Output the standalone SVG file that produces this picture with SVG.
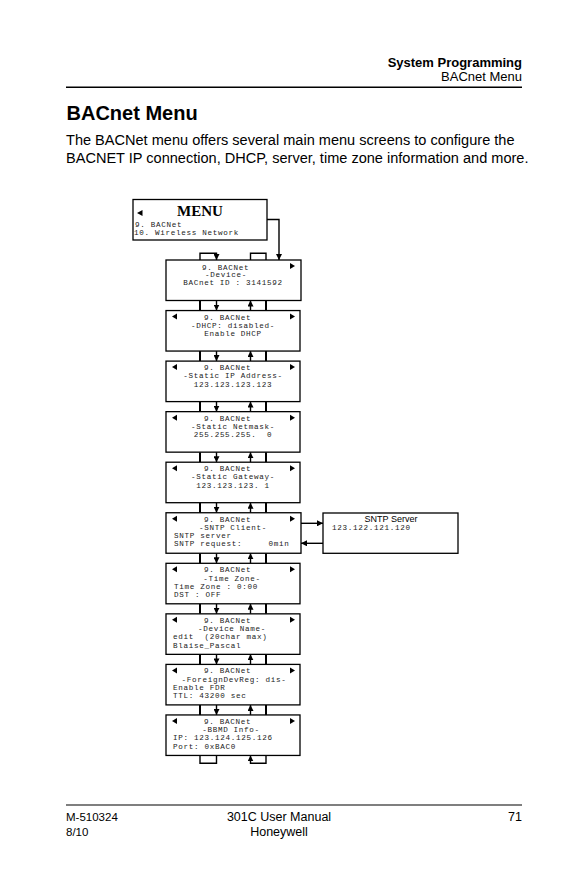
<svg xmlns="http://www.w3.org/2000/svg" width="577" height="892" viewBox="0 0 577 892">
<style>
.sans{font-family:"Liberation Sans",Arial,sans-serif;fill:#000}
.lcd{font-family:"Liberation Mono","Courier New",monospace;font-size:7.6px;letter-spacing:0.69px;fill:#222;white-space:pre}
.mid{text-anchor:middle}
.box{fill:#fff;stroke:#000;stroke-width:1.3}
.tri{fill:#000}
.ln{fill:none;stroke:#000;stroke-width:1.4}
.thick{fill:none;stroke:#000;stroke-width:2}
</style>
<defs>
<marker id="ah" markerUnits="userSpaceOnUse" viewBox="0 0 6 6" markerWidth="6" markerHeight="6" refX="6" refY="3" orient="auto">
<path d="M0,0 L6,3 L0,6 z" fill="#000"/>
</marker>
</defs>
<rect width="577" height="892" fill="#fff"/>

<g id="header">
<text class="sans" x="522" y="66.5" font-size="13" font-weight="bold" text-anchor="end">System Programming</text>
<text class="sans" x="522" y="81" font-size="13" text-anchor="end">BACnet Menu</text>
<line x1="66" y1="87.3" x2="522" y2="87.3" stroke="#000" stroke-width="1.5"/>
</g>
<g id="intro">
<text class="sans" x="66.5" y="120" font-size="20" font-weight="bold">BACnet Menu</text>
<text class="sans" x="66" y="145" font-size="14.55">The BACNet menu offers several main menu screens to configure the</text>
<text class="sans" x="66" y="162.5" font-size="14.55">BACNET IP connection, DHCP, server, time zone information and more.</text>
</g>

<g id="connectors">
<path class="ln" d="M267,219.5 H279 V260" marker-end="url(#ah)"/>
<path class="ln" d="M200,260 V253.3 H216.5 V260" marker-end="url(#ah)"/>
<path class="ln" d="M250.5,260 V253.3 H266 V260"/>
<g id="gap0"><line class="thick" x1="200" y1="300.5" x2="200" y2="310.55"/><line class="thick" x1="266" y1="300.5" x2="266" y2="310.55"/><path class="ln" d="M216.5,300.5 V310.55" marker-end="url(#ah)"/><path class="ln" d="M250.5,310.55 V300.5" marker-end="url(#ah)"/></g>
<g id="gap1"><line class="thick" x1="200" y1="351.05" x2="200" y2="361.1"/><line class="thick" x1="266" y1="351.05" x2="266" y2="361.1"/><path class="ln" d="M216.5,351.05 V361.1" marker-end="url(#ah)"/><path class="ln" d="M250.5,361.1 V351.05" marker-end="url(#ah)"/></g>
<g id="gap2"><line class="thick" x1="200" y1="401.6" x2="200" y2="411.65"/><line class="thick" x1="266" y1="401.6" x2="266" y2="411.65"/><path class="ln" d="M216.5,401.6 V411.65" marker-end="url(#ah)"/><path class="ln" d="M250.5,411.65 V401.6" marker-end="url(#ah)"/></g>
<g id="gap3"><line class="thick" x1="200" y1="452.15" x2="200" y2="462.2"/><line class="thick" x1="266" y1="452.15" x2="266" y2="462.2"/><path class="ln" d="M216.5,452.15 V462.2" marker-end="url(#ah)"/><path class="ln" d="M250.5,462.2 V452.15" marker-end="url(#ah)"/></g>
<g id="gap4"><line class="thick" x1="200" y1="502.7" x2="200" y2="512.75"/><line class="thick" x1="266" y1="502.7" x2="266" y2="512.75"/><path class="ln" d="M216.5,502.7 V512.75" marker-end="url(#ah)"/><path class="ln" d="M250.5,512.75 V502.7" marker-end="url(#ah)"/></g>
<g id="gap5"><line class="thick" x1="200" y1="553.25" x2="200" y2="563.3"/><line class="thick" x1="266" y1="553.25" x2="266" y2="563.3"/><path class="ln" d="M216.5,553.25 V563.3" marker-end="url(#ah)"/><path class="ln" d="M250.5,563.3 V553.25" marker-end="url(#ah)"/></g>
<g id="gap6"><line class="thick" x1="200" y1="603.8" x2="200" y2="613.85"/><line class="thick" x1="266" y1="603.8" x2="266" y2="613.85"/><path class="ln" d="M216.5,603.8 V613.85" marker-end="url(#ah)"/><path class="ln" d="M250.5,613.85 V603.8" marker-end="url(#ah)"/></g>
<g id="gap7"><line class="thick" x1="200" y1="654.35" x2="200" y2="664.4"/><line class="thick" x1="266" y1="654.35" x2="266" y2="664.4"/><path class="ln" d="M216.5,654.35 V664.4" marker-end="url(#ah)"/><path class="ln" d="M250.5,664.4 V654.35" marker-end="url(#ah)"/></g>
<g id="gap8"><line class="thick" x1="200" y1="704.9" x2="200" y2="714.95"/><line class="thick" x1="266" y1="704.9" x2="266" y2="714.95"/><path class="ln" d="M216.5,704.9 V714.95" marker-end="url(#ah)"/><path class="ln" d="M250.5,714.95 V704.9" marker-end="url(#ah)"/></g>
<path class="ln" d="M200,755.45 V763.3 H216.5 V755.45"/>
<path class="ln" d="M266,755.45 V763.3 H250.5 V755.45" marker-end="url(#ah)"/>
<path class="ln" d="M301,523.3 H323" marker-end="url(#ah)"/>
<path class="ln" d="M323,543.3 H301" marker-end="url(#ah)"/>
</g>

<g id="menu">
<rect class="box" x="133" y="199.5" width="134" height="40.5"/>
<polygon class="tri" points="137,213 142.5,210 142.5,216"/>
<text x="200" y="216.3" font-family="'Liberation Serif','Times New Roman',serif" font-size="15" font-weight="bold" text-anchor="middle">MENU</text>
<text class="lcd" x="135" y="227">9. BACNet</text>
<text class="lcd" x="134" y="235.3">10. Wireless Network</text>
</g>

<g id="device">
<rect class="box" x="166" y="260" width="135" height="40.5"/>
<polygon class="tri" points="295,266 290,263 290,269"/>
<text class="lcd" x="202" y="269.5">9. BACNet</text>
<text class="lcd" x="205" y="277.3">-Device-</text>
<text class="lcd mid" x="233" y="285.2">BACnet ID : 3141592</text>
</g>

<g id="dhcp">
<rect class="box" x="166" y="310.55" width="134" height="40.5"/>
<polygon class="tri" points="172,316.55 177,313.55 177,319.55"/>
<polygon class="tri" points="295,316.55 290,313.55 290,319.55"/>
<text class="lcd" x="204" y="319.6">9. BACNet</text>
<text class="lcd mid" x="233" y="327.8">-DHCP: disabled-</text>
<text class="lcd mid" x="233" y="336">Enable DHCP</text>
</g>

<g id="staticip">
<rect class="box" x="166" y="361.1" width="134" height="40.5"/>
<polygon class="tri" points="172,367.1 177,364.1 177,370.1"/>
<polygon class="tri" points="295,367.1 290,364.1 290,370.1"/>
<text class="lcd" x="204" y="370.1">9. BACNet</text>
<text class="lcd mid" x="233" y="378.3">-Static IP Address-</text>
<text class="lcd mid" x="233" y="386.5">123.123.123.123</text>
</g>

<g id="netmask">
<rect class="box" x="166" y="411.65" width="134" height="40.5"/>
<polygon class="tri" points="172,417.65 177,414.65 177,420.65"/>
<polygon class="tri" points="295,417.65 290,414.65 290,420.65"/>
<text class="lcd" x="204" y="420.7">9. BACNet</text>
<text class="lcd mid" x="233" y="428.9">-Static Netmask-</text>
<text class="lcd mid" x="233" y="437.1">255.255.255.  0</text>
</g>

<g id="gateway">
<rect class="box" x="166" y="462.2" width="134" height="40.5"/>
<polygon class="tri" points="172,468.2 177,465.2 177,471.2"/>
<polygon class="tri" points="295,468.2 290,465.2 290,471.2"/>
<text class="lcd" x="204" y="471.2">9. BACNet</text>
<text class="lcd mid" x="233" y="479.4">-Static Gateway-</text>
<text class="lcd mid" x="233" y="487.6">123.123.123. 1</text>
</g>

<g id="sntp">
<rect class="box" x="166" y="512.75" width="135" height="40.5"/>
<polygon class="tri" points="172,518.75 177,515.75 177,521.75"/>
<polygon class="tri" points="295,518.75 290,515.75 290,521.75"/>
<text class="lcd" x="204" y="521.8">9. BACNet</text>
<text class="lcd mid" x="233" y="530">-SNTP Client-</text>
<text class="lcd" x="174" y="538.2">SNTP server</text>
<text class="lcd" x="174" y="546.4">SNTP request:     0min</text>
</g>

<g id="sntpserver">
<rect class="box" x="323" y="513" width="135" height="40.3"/>
<text class="sans" x="391" y="522" font-size="9" text-anchor="middle">SNTP Server</text>
<text class="lcd" x="332" y="530">123.122.121.120</text>
</g>

<g id="timezone">
<rect class="box" x="166" y="563.3" width="134" height="40.5"/>
<polygon class="tri" points="172,569.3 177,566.3 177,572.3"/>
<polygon class="tri" points="295,569.3 290,566.3 290,572.3"/>
<text class="lcd" x="204" y="572.3">9. BACNet</text>
<text class="lcd mid" x="232" y="580.5">-Time Zone-</text>
<text class="lcd" x="174" y="588.7">Time Zone : 0:00</text>
<text class="lcd" x="174" y="596.9">DST : OFF</text>
</g>

<g id="devicename">
<rect class="box" x="166" y="613.85" width="134" height="40.5"/>
<polygon class="tri" points="172,619.85 177,616.85 177,622.85"/>
<polygon class="tri" points="295,619.85 290,616.85 290,622.85"/>
<text class="lcd" x="204" y="622.9">9. BACNet</text>
<text class="lcd mid" x="232" y="631.1">-Device Name-</text>
<text class="lcd" x="173" y="639.3">edit  (20char max)</text>
<text class="lcd" x="173" y="647.5">Blaise_Pascal</text>
</g>

<g id="foreigndevreg">
<rect class="box" x="166" y="664.4" width="134" height="40.5"/>
<polygon class="tri" points="172,670.4 177,667.4 177,673.4"/>
<polygon class="tri" points="295,670.4 290,667.4 290,673.4"/>
<text class="lcd" x="204" y="673.4">9. BACNet</text>
<text class="lcd mid" x="234" y="681.6">-ForeignDevReg: dis-</text>
<text class="lcd" x="173" y="689.8">Enable FDR</text>
<text class="lcd" x="173" y="698">TTL: 43200 sec</text>
</g>

<g id="bbmd">
<rect class="box" x="166" y="714.95" width="134" height="40.5"/>
<polygon class="tri" points="172,720.95 177,717.95 177,723.95"/>
<polygon class="tri" points="295,720.95 290,717.95 290,723.95"/>
<text class="lcd" x="204" y="724">9. BACNet</text>
<text class="lcd mid" x="231" y="732.2">-BBMD Info-</text>
<text class="lcd" x="173" y="740.4">IP: 123.124.125.126</text>
<text class="lcd" x="173" y="748.6">Port: 0xBAC0</text>
</g>

<g id="footer">
<line x1="66" y1="805" x2="522" y2="805" stroke="#000" stroke-width="1.2"/>
<text class="sans" x="66" y="820.5" font-size="11.5">M-510324</text>
<text class="sans" x="66" y="836" font-size="11.5">8/10</text>
<text class="sans" x="279" y="820.5" font-size="12.5" text-anchor="middle">301C User Manual</text>
<text class="sans" x="279" y="836" font-size="12.5" text-anchor="middle">Honeywell</text>
<text class="sans" x="522" y="820.5" font-size="12.5" text-anchor="end">71</text>
</g>
</svg>
